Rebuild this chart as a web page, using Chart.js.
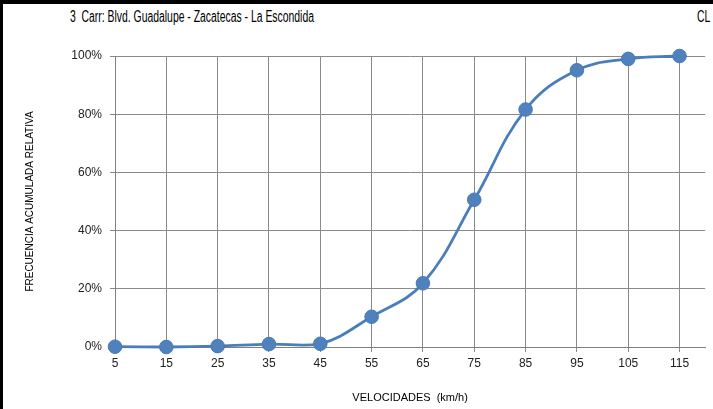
<!DOCTYPE html>
<html>
<head>
<meta charset="utf-8">
<script src="https://cdn.jsdelivr.net/npm/chart.js@4/dist/chart.umd.min.js"></script>
<style>
  html, body { margin: 0; padding: 0; background: #fff; }
  #frame {
    position: relative; width: 713px; height: 409px; box-sizing: border-box;
    border-top: 4px solid #000; border-left: 3px solid #000; overflow: hidden;
    font-family: "Liberation Sans Narrow", "Arial Narrow", "Liberation Sans", sans-serif;
  }
  #box { position: absolute; left: 0; top: 0; width: 710px; height: 405px; }
  .title {
    position: absolute; top: 4px; font-size: 16px; white-space: nowrap; color: #000;
    transform: scaleX(0.65); transform-origin: left center;
  }
</style>
</head>
<body>
<div id="frame">
  <div class="title" style="left:67px">3&nbsp; Carr: Blvd. Guadalupe - Zacatecas - La Escondida</div>
  <div class="title" style="left:694px">CL</div>
  <div id="box"><canvas id="canvas-chart"></canvas></div>
</div>
<script>
'use strict'

// velocidades (km/h) and cumulative relative frequency (%)
let speeds = [5, 15, 25, 35, 45, 55, 65, 75, 85, 95, 105, 115];
let cumulative = [0.1, 0, 0.3, 1.0, 1.1, 10.4, 21.9, 50.6, 81.6, 95.1, 99.0, 100];
let xTicks = [5, 15, 25, 35, 45, 55, 65, 75, 85, 95, 105, 115];
let yTicks = [0, 20, 40, 60, 80, 100];

Chart.defaults.font.family = '"Liberation Sans Narrow", "Arial Narrow", "Liberation Sans", sans-serif';
Chart.defaults.color = '#222';

let chart = document.getElementById("canvas-chart").getContext("2d");

let chartData = {
    datasets: [
        {
            label: "Frecuencia acumulada",
            data: speeds.map(function (s, i) { return { x: s, y: cumulative[i] }; }),
            borderColor: "#4a7ebb",
            borderWidth: 2.8,
            tension: 0.4,
            pointRadius: 6.8,
            pointBackgroundColor: "#4f81bd",
            pointBorderColor: "#4a7ab5",
            pointBorderWidth: 1,
            clip: false,
        },
    ],
};

let gridColor = "#8a8a8a";

let chart1 = new Chart(chart, {
    type: "line",
    data: chartData,
    options: {
        responsive: true,
        maintainAspectRatio: false,
        animation: false,
        layout: { padding: { top: 52, right: 6, left: 0, bottom: 0 } },
        plugins: { legend: { display: false }, tooltip: { enabled: false } },
        scales: {
            x: {
                type: "linear",
                min: 5,
                max: 120,
                afterBuildTicks: function (axis) {
                    axis.ticks = xTicks.map(function (v) { return { value: v }; });
                },
                afterFit: function (axis) { axis.height = 62; },
                grid: { color: gridColor, tickLength: 5 },
                border: { color: "#7f7f7f" },
                ticks: { padding: 4, autoSkip: false, maxRotation: 0, font: { size: 12 } },
                title: {
                    display: true,
                    text: "VELOCIDADES  (km/h)",
                    color: "#000",
                    font: { size: 11 },
                    padding: { top: 0, bottom: 4 },
                },
            },
            y: {
                min: 0,
                max: 100,
                afterBuildTicks: function (axis) {
                    axis.ticks = yTicks.map(function (v) { return { value: v }; });
                },
                afterFit: function (axis) { axis.width = 112; },
                grid: { color: gridColor, tickLength: 5 },
                border: { color: "#7f7f7f" },
                ticks: {
                    padding: 8,
                    font: { size: 12 },
                    callback: function (v) { return v + "%"; },
                },
                title: {
                    display: true,
                    text: "FRECUENCIA ACUMULADA RELATIVA",
                    color: "#000",
                    font: { size: 10 },
                    padding: { top: 21, bottom: 0 },
                },
            },
        },
    },
});
</script>
</body>
</html>
